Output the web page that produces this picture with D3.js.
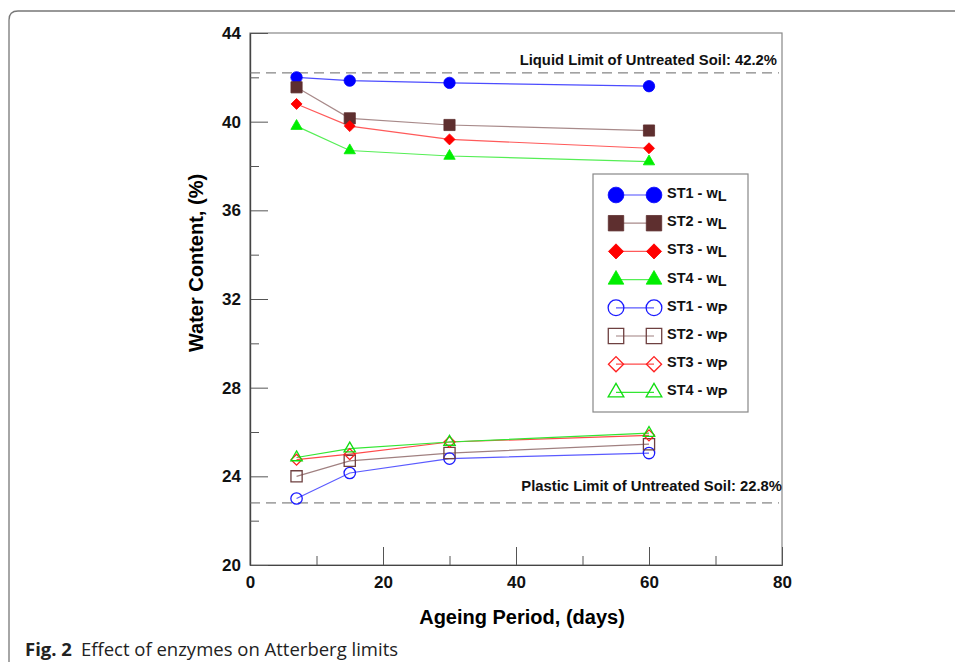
<!DOCTYPE html>
<html>
<head>
<meta charset="utf-8">
<script src="https://cdn.jsdelivr.net/npm/d3@7"></script>
<style>
  body { margin: 0; background: #fff; }
  svg { display: block; }
</style>
</head>
<body>
<div id="chart"></div>
<script>
// data
var days = [7, 15, 30, 60];
var st1L = [42.0, 41.85, 41.75, 41.6];
var st2L = [41.55, 40.15, 39.85, 39.6];
var st3L = [40.8, 39.8, 39.2, 38.8];
var st4L = [39.8, 38.7, 38.45, 38.2];
var st1P = [23.0, 24.15, 24.8, 25.05];
var st2P = [24.0, 24.7, 25.05, 25.45];
var st3P = [24.75, 25.0, 25.55, 25.85];
var st4P = [24.85, 25.25, 25.55, 25.95];
var xTicks = [0, 20, 40, 60, 80];
var xMinor = [10, 30, 50, 70];
var yTicks = [20, 24, 28, 32, 36, 40, 44];
var yMinor = [22, 26, 30, 34, 38, 42];
var liquidLimit = 42.2;
var plasticLimit = 22.8;

var font = 'Arial, "Liberation Sans", sans-serif';
var width = 955, height = 662;
var svg = d3.select('#chart').append('svg')
    .attr('width', width)
    .attr('height', height);

// outer figure frame (rounded top-left corner)
svg.append('path')
    .attr('d', 'M9,662 L9,20 Q9,11 18,11 L955,11')
    .attr('fill', 'none')
    .attr('stroke', '#777')
    .attr('stroke-width', 1.3);

var x = d3.scaleLinear().domain([0, 80]).range([250, 782]);
var y = d3.scaleLinear().domain([20, 44]).range([565, 33]);

// plot box
svg.append('rect')
    .attr('x', x(0)).attr('y', y(44))
    .attr('width', x(80) - x(0)).attr('height', y(20) - y(44))
    .attr('fill', 'none').attr('stroke', '#888').attr('stroke-width', 1.2);

// axes with inward ticks
var gx = svg.append('g').attr('transform', 'translate(0,' + y(20) + ')')
    .call(d3.axisBottom(x).tickValues(xTicks).tickSizeInner(-18).tickSizeOuter(0).tickPadding(11));
var gxm = svg.append('g').attr('transform', 'translate(0,' + y(20) + ')')
    .call(d3.axisBottom(x).tickValues(xMinor).tickSizeInner(-9).tickSizeOuter(0).tickFormat(''));
var gy = svg.append('g').attr('transform', 'translate(' + x(0) + ',0)')
    .call(d3.axisLeft(y).tickValues(yTicks).tickSizeInner(-18).tickSizeOuter(0).tickPadding(9));
var gym = svg.append('g').attr('transform', 'translate(' + x(0) + ',0)')
    .call(d3.axisLeft(y).tickValues(yMinor).tickSizeInner(-9).tickSizeOuter(0).tickFormat(''));
[gx, gxm, gy, gym].forEach(function(g){
    g.select('.domain').attr('stroke', '#444').attr('stroke-width', 1.2);
    g.selectAll('.tick line').attr('stroke', '#555');
    g.selectAll('.tick text')
        .style('font-family', font)
        .style('font-weight', 'bold')
        .style('font-size', '17px')
        .style('fill', '#111');
});

// axis titles
svg.append('text')
    .attr('x', 522).attr('y', 624)
    .attr('text-anchor', 'middle')
    .style('font-family', font)
    .style('font-weight', 'bold').style('font-size', '20px')
    .text('Ageing Period, (days)');
svg.append('text')
    .attr('transform', 'translate(203,' + 263 + ')rotate(-90)')
    .attr('text-anchor', 'middle')
    .style('font-family', font)
    .style('font-weight', 'bold').style('font-size', '20px')
    .text('Water Content, (%)');

// reference lines for untreated soil
[[liquidLimit, 'Liquid Limit of Untreated Soil: 42.2%', -8, 777],
 [plasticLimit, 'Plastic Limit of Untreated Soil: 22.8%', -12, 782]].forEach(function(d){
    svg.append('line')
        .attr('x1', x(0)).attr('x2', 779)
        .attr('y1', y(d[0])).attr('y2', y(d[0]))
        .attr('stroke', '#666').attr('stroke-width', 1)
        .attr('stroke-dasharray', '10,6');
    svg.append('text')
        .attr('x', d[3]).attr('y', y(d[0]) + d[2])
        .attr('text-anchor', 'end')
        .style('font-family', font)
        .style('font-weight', 'bold').style('font-size', '14.8px')
        .style('fill', '#111')
        .text(d[1]);
});

// series definitions
var series = [
    {name: 'ST1 - w', sub: 'L', vals: st1L, color: '#0000ff', line: '#4d4dff', shape: 'circle', filled: true},
    {name: 'ST2 - w', sub: 'L', vals: st2L, color: '#5e2f2f', line: '#a88a8a', shape: 'square', filled: true},
    {name: 'ST3 - w', sub: 'L', vals: st3L, color: '#ff0000', line: '#ff5a5a', shape: 'diamond', filled: true},
    {name: 'ST4 - w', sub: 'L', vals: st4L, color: '#00ee00', line: '#55ee55', shape: 'triangle', filled: true},
    {name: 'ST1 - w', sub: 'P', vals: st1P, color: '#1a1aff', line: '#5a5aff', shape: 'circle', filled: false},
    {name: 'ST2 - w', sub: 'P', vals: st2P, color: '#6e4040', line: '#a08080', shape: 'square', filled: false},
    {name: 'ST3 - w', sub: 'P', vals: st3P, color: '#ff2020', line: '#ff4a4a', shape: 'diamond', filled: false},
    {name: 'ST4 - w', sub: 'P', vals: st4P, color: '#11dd11', line: '#33e633', shape: 'triangle', filled: false}
];

function symbolPath(shape, scale){
    var s = scale || 1;
    if (shape === 'circle') return d3.symbol(d3.symbolCircle, 102 * s * s)();
    if (shape === 'square') return d3.symbol(d3.symbolSquare, 125 * s * s)();
    if (shape === 'diamond') return d3.symbol(d3.symbolSquare, 60 * s * s)();
    return d3.symbol(d3.symbolTriangle, 56 * s * s)();
}

function drawMarker(g, d, cx, cy, scale){
    g.append('path')
        .attr('d', symbolPath(d.shape, scale))
        .attr('transform', 'translate(' + cx + ',' + cy + ')' + (d.shape === 'diamond' ? 'rotate(45)' : ''))
        .attr('fill', d.filled ? d.color : 'none')
        .attr('stroke', d.color)
        .attr('stroke-width', d.filled ? 0.8 : 1.3);
}

var line = d3.line()
    .x(function(v, i){ return x(days[i]); })
    .y(function(v){ return y(v); });

series.forEach(function(d){
    svg.append('path')
        .datum(d.vals)
        .attr('d', line)
        .attr('fill', 'none')
        .attr('stroke', d.line)
        .attr('stroke-width', 1.2);
});
series.forEach(function(d){
    var g = svg.append('g');
    d.vals.forEach(function(v, i){
        drawMarker(g, d, x(days[i]), y(v), 1);
    });
});

// legend
var legend = svg.append('g');
legend.append('rect')
    .attr('x', 593).attr('y', 174)
    .attr('width', 155).attr('height', 238)
    .attr('fill', '#fff').attr('stroke', '#888').attr('stroke-width', 1.2);
series.forEach(function(d, i){
    var ly = 195 + i * 28.2;
    legend.append('line')
        .attr('x1', 616).attr('x2', 654)
        .attr('y1', ly).attr('y2', ly)
        .attr('stroke', d.line).attr('stroke-width', 1.2);
    drawMarker(legend, d, 616, ly, 1.38);
    drawMarker(legend, d, 654, ly, 1.38);
    var t = legend.append('text')
        .attr('x', 667).attr('y', ly + 3)
        .style('font-family', font)
        .style('font-weight', 'bold').style('font-size', '14.5px')
        .style('fill', '#111');
    t.append('tspan').text(d.name);
    t.append('tspan').attr('dy', 3).text(d.sub);
});

// caption
var cap = svg.append('text')
    .attr('x', 25).attr('y', 656)
    .style('font-family', '"Open Sans", "Noto Sans", sans-serif')
    .style('font-size', '18.5px')
    .style('fill', '#222');
cap.append('tspan').style('font-weight', 'bold').text('Fig. 2');
cap.append('tspan').attr('dx', 9).text('Effect of enzymes on Atterberg limits');
</script>
</body>
</html>
